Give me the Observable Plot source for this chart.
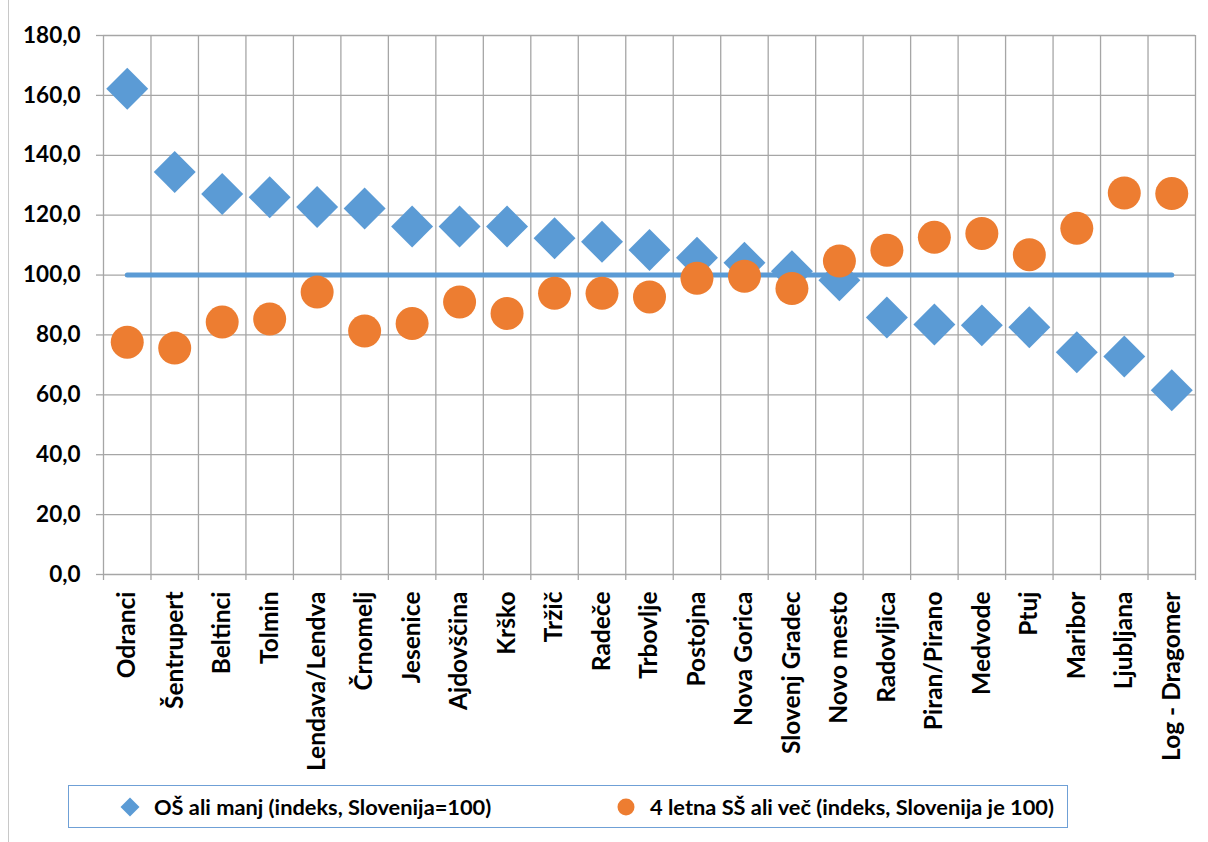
<!DOCTYPE html>
<html>
<head>
<meta charset="utf-8">
<script src="https://cdn.jsdelivr.net/npm/d3@7"></script>
<script src="https://cdn.jsdelivr.net/npm/@observablehq/plot@0.6"></script>
<style>
  html, body { margin: 0; padding: 0; background: #fff; }
  body { width: 1208px; height: 842px; position: relative; overflow: hidden; font-family: Lato, "Open Sans", sans-serif; }
  #frame { position: absolute; left: 8px; top: 0; width: 1px; height: 842px; background: #c8c8c8; }
  #chart { position: absolute; left: 0; top: 0; }
  #chart text { font-weight: 700; }
  #legend { position: absolute; left: 68px; top: 785px; width: 998px; height: 41px; border: 1.5px solid #6fa0d6;
            font-weight: 700; font-size: 21.8px; color: #000; box-sizing: content-box; }
  .item { position: absolute; top: 0; height: 41px; display: flex; align-items: center; }
  .item svg { margin-right: 13px; }
</style>
</head>
<body>
<div id="frame"></div>
<div id="chart"></div>
<div id="legend">
  <div class="item" style="left:50px"><svg width="22" height="22" viewBox="-11 -11 22 22"><path d="M0,-9.5L9.5,0L0,9.5L-9.5,0Z" fill="#5B9BD5"/></svg><span id="l1"></span></div>
  <div class="item" style="left:546px"><svg width="22" height="22" viewBox="-11 -11 22 22"><circle r="8.5" fill="#ED7D31"/></svg><span id="l2"></span></div>
</div>
<script>
const categories = ["Odranci","Šentrupert","Beltinci","Tolmin","Lendava/Lendva","Črnomelj","Jesenice","Ajdovščina","Krško","Tržič","Radeče","Trbovlje","Postojna","Nova Gorica","Slovenj Gradec","Novo mesto","Radovljica","Piran/Pirano","Medvode","Ptuj","Maribor","Ljubljana","Log - Dragomer"];
const osValues = [162.2,134.4,127.1,126.0,122.7,122.2,116.2,116.2,116.2,112.3,111.1,108.4,105.8,104.1,101.3,98.3,85.8,83.5,83.2,82.6,74.2,72.8,61.5];
const ssValues = [77.6,75.6,84.3,85.3,94.3,81.3,83.8,91.0,87.2,93.9,93.9,92.7,98.9,99.6,95.5,104.7,108.3,112.6,113.9,106.8,115.6,127.4,127.2];
const yTicks = [0,20,40,60,80,100,120,140,160,180];
const referenceValue = 100;
const seriesNames = ["OŠ ali manj (indeks, Slovenija=100)", "4 letna SŠ ali več (indeks, Slovenija je 100)"];
</script>
<script>
document.getElementById("l1").textContent = seriesNames[0];
document.getElementById("l2").textContent = seriesNames[1];

const data = categories.map((name, i) => ({name, i, os: osValues[i], ss: ssValues[i]}));
const n = categories.length;
const boundaries = d3.range(n + 1);
const centers = d3.range(n).map(i => i + 0.5);
const grid = "#a6a6a6";
const fmt = d => d.toFixed(1).replace(".", ",");

const chart = Plot.plot({
  width: 1208,
  height: 780,
  marginLeft: 103,
  marginRight: 13,
  marginTop: 35,
  marginBottom: 206,
  style: {fontFamily: "Lato, 'Open Sans', sans-serif", color: "#000", background: "transparent"},
  x: {type: "linear", domain: [0, n]},
  y: {domain: [0, 180]},
  marks: [
    Plot.ruleY(yTicks, {stroke: grid, strokeWidth: 1.3}),
    Plot.ruleX(boundaries, {stroke: grid, strokeWidth: 1.3}),
    Plot.axisY(yTicks, {tickSize: 7, tickPadding: 16, tickFormat: fmt, fontSize: 22.5, fontWeight: "bold", stroke: grid, strokeWidth: 1.3}),
    Plot.axisX(boundaries, {tickSize: 6, tickFormat: () => "", stroke: grid, strokeWidth: 1.3}),
    Plot.axisX(centers, {tickSize: 0, tickPadding: 17, tickRotate: -90, fontSize: 24.5, fontWeight: "bold",
      tickFormat: d => categories[Math.floor(d)]}),
    Plot.line(data, {x: d => d.i + 0.5, y: () => referenceValue, stroke: "#5B9BD5", strokeWidth: 5, strokeLinecap: "round"}),
    Plot.dot(data, {x: d => d.i + 0.5, y: "os", symbol: "diamond2", r: 18.9, fill: "#5B9BD5"}),
    Plot.dot(data, {x: d => d.i + 0.5, y: "ss", symbol: "circle", r: 16.5, fill: "#ED7D31"})
  ]
});
document.getElementById("chart").appendChild(chart);
</script>
</body>
</html>
